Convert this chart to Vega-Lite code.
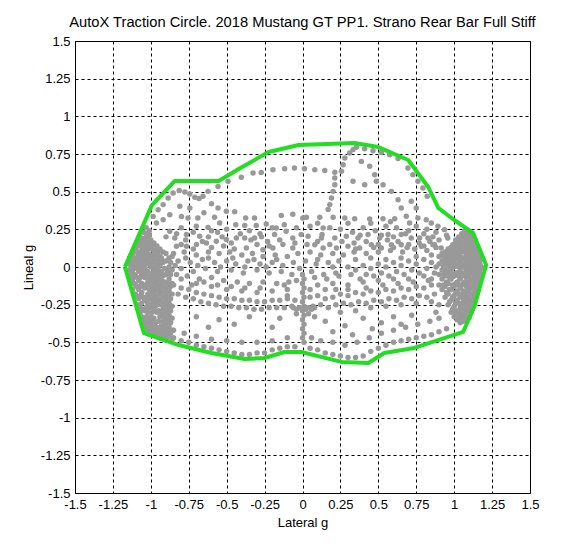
{
"$schema":"https://vega.github.io/schema/vega-lite/v6.json",
"width":455,"height":452,
"autosize":{"type":"none"},
"padding":{"left":75,"top":41,"right":55,"bottom":64},
"title":{"text":"AutoX Traction Circle. 2018 Mustang GT PP1. Strano Rear Bar Full Stiff","fontSize":14.7,"fontWeight":"normal","font":"Liberation Sans","color":"black","offset":5},
"datasets":{
"pts":[
{"x":-1.14,"y":-0.06},{"x":-1.14,"y":-0.02},{"x":-1.14,"y":0.02},{"x":-1.14,"y":0.06},
{"x":-1.12,"y":-0.15},{"x":-1.12,"y":-0.08},{"x":-1.12,"y":-0.02},{"x":-1.12,"y":0.03},{"x":-1.12,"y":0.08},{"x":-1.11,"y":0.12},
{"x":-1.1,"y":-0.18},{"x":-1.1,"y":-0.12},{"x":-1.1,"y":-0.06},{"x":-1.1,"y":0},{"x":-1.1,"y":0.06},{"x":-1.1,"y":0.12},{"x":-1.09,"y":0.17},
{"x":-1.08,"y":-0.28},{"x":-1.08,"y":-0.21},{"x":-1.08,"y":-0.15},{"x":-1.08,"y":-0.09},{"x":-1.08,"y":-0.03},{"x":-1.08,"y":0.02},{"x":-1.08,"y":0.08},{"x":-1.08,"y":0.14},{"x":-1.07,"y":0.2},
{"x":-1.06,"y":-0.33},{"x":-1.06,"y":-0.24},{"x":-1.06,"y":-0.17},{"x":-1.06,"y":-0.11},{"x":-1.06,"y":-0.05},{"x":-1.06,"y":0.01},{"x":-1.06,"y":0.07},{"x":-1.06,"y":0.11},{"x":-1.06,"y":0.16},{"x":-1.05,"y":0.23},
{"x":-1.04,"y":-0.39},{"x":-1.04,"y":-0.35},{"x":-1.04,"y":-0.29},{"x":-1.04,"y":-0.22},{"x":-1.04,"y":-0.14},{"x":-1.04,"y":-0.07},{"x":-1.04,"y":-0.01},{"x":-1.04,"y":0.05},{"x":-1.04,"y":0.1},{"x":-1.04,"y":0.15},{"x":-1.04,"y":0.19},{"x":-1.03,"y":0.26},
{"x":-1.02,"y":-0.42},{"x":-1.02,"y":-0.37},{"x":-1.02,"y":-0.3},{"x":-1.02,"y":-0.24},{"x":-1.02,"y":-0.18},{"x":-1.02,"y":-0.1},{"x":-1.02,"y":-0.03},{"x":-1.02,"y":0.04},{"x":-1.02,"y":0.09},{"x":-1.02,"y":0.13},{"x":-1.02,"y":0.2},{"x":-1.01,"y":0.24},
{"x":-1,"y":-0.44},{"x":-1,"y":-0.38},{"x":-1,"y":-0.33},{"x":-1,"y":-0.26},{"x":-1,"y":-0.2},{"x":-1,"y":-0.13},{"x":-1,"y":-0.06},{"x":-1,"y":0},{"x":-1,"y":0.06},{"x":-1,"y":0.12},{"x":-1,"y":0.18},
{"x":-0.98,"y":-0.45},{"x":-0.98,"y":-0.4},{"x":-0.98,"y":-0.34},{"x":-0.98,"y":-0.28},{"x":-0.98,"y":-0.22},{"x":-0.98,"y":-0.15},{"x":-0.98,"y":-0.08},{"x":-0.98,"y":-0.02},{"x":-0.98,"y":0.05},{"x":-0.98,"y":0.11},{"x":-0.98,"y":0.16},
{"x":-0.96,"y":-0.46},{"x":-0.96,"y":-0.4},{"x":-0.96,"y":-0.3},{"x":-0.96,"y":-0.23},{"x":-0.96,"y":-0.16},{"x":-0.96,"y":-0.1},{"x":-0.96,"y":-0.04},{"x":-0.96,"y":0.02},{"x":-0.96,"y":0.08},{"x":-0.96,"y":0.14},
{"x":-0.94,"y":-0.47},{"x":-0.94,"y":-0.42},{"x":-0.94,"y":-0.33},{"x":-0.94,"y":-0.25},{"x":-0.94,"y":-0.18},{"x":-0.94,"y":-0.12},{"x":-0.94,"y":-0.05},{"x":-0.94,"y":0.01},{"x":-0.94,"y":0.07},{"x":-0.94,"y":0.12},
{"x":-0.92,"y":-0.47},{"x":-0.92,"y":-0.43},{"x":-0.92,"y":-0.36},{"x":-0.92,"y":-0.28},{"x":-0.92,"y":-0.2},{"x":-0.92,"y":-0.13},{"x":-0.92,"y":-0.06},{"x":-0.92,"y":0.03},{"x":-0.92,"y":0.1},
{"x":-0.9,"y":-0.48},{"x":-0.9,"y":-0.44},{"x":-0.9,"y":-0.38},{"x":-0.9,"y":-0.3},{"x":-0.9,"y":-0.22},{"x":-0.9,"y":-0.14},{"x":-0.9,"y":-0.05},{"x":-0.9,"y":0.04},{"x":-0.9,"y":0.09},
{"x":-0.88,"y":-0.46},{"x":-0.88,"y":-0.4},{"x":-0.88,"y":-0.32},{"x":-0.88,"y":-0.24},{"x":-0.88,"y":-0.16},{"x":-0.88,"y":-0.08},{"x":-0.88,"y":0},{"x":-0.88,"y":0.06},
{"x":-0.86,"y":-0.48},{"x":-0.86,"y":-0.42},{"x":-0.86,"y":-0.34},{"x":-0.86,"y":-0.26},{"x":-0.86,"y":-0.18},{"x":-0.86,"y":-0.11},{"x":-0.86,"y":-0.02},{"x":-0.86,"y":0.07},
{"x":-1.13,"y":-0.1},{"x":-1.13,"y":-0.04},{"x":-1.13,"y":0},{"x":-1.13,"y":0.04},{"x":-1.13,"y":0.08},
{"x":-1.11,"y":-0.18},{"x":-1.11,"y":-0.11},{"x":-1.11,"y":-0.05},{"x":-1.11,"y":0.01},{"x":-1.11,"y":0.05},{"x":-1.11,"y":0.1},{"x":-1.1,"y":0.15},
{"x":-1.09,"y":-0.25},{"x":-1.09,"y":-0.2},{"x":-1.09,"y":-0.13},{"x":-1.09,"y":-0.07},{"x":-1.09,"y":-0.01},{"x":-1.09,"y":0.04},{"x":-1.09,"y":0.1},{"x":-1.08,"y":0.16},
{"x":-1.07,"y":-0.3},{"x":-1.07,"y":-0.26},{"x":-1.07,"y":-0.19},{"x":-1.07,"y":-0.13},{"x":-1.07,"y":-0.07},{"x":-1.07,"y":-0.01},{"x":-1.07,"y":0.05},{"x":-1.07,"y":0.1},{"x":-1.07,"y":0.17},
{"x":-1.05,"y":-0.36},{"x":-1.05,"y":-0.28},{"x":-1.05,"y":-0.2},{"x":-1.05,"y":-0.12},{"x":-1.05,"y":-0.03},{"x":-1.05,"y":0.03},{"x":-1.05,"y":0.09},{"x":-1.05,"y":0.13},{"x":-1.05,"y":0.19},
{"x":-1.03,"y":-0.4},{"x":-1.03,"y":-0.33},{"x":-1.03,"y":-0.27},{"x":-1.03,"y":-0.2},{"x":-1.03,"y":-0.12},{"x":-1.03,"y":-0.05},{"x":-1.03,"y":0.02},{"x":-1.03,"y":0.07},{"x":-1.03,"y":0.11},{"x":-1.03,"y":0.17},{"x":-1.03,"y":0.22},
{"x":-1.01,"y":-0.41},{"x":-1.01,"y":-0.34},{"x":-1.01,"y":-0.27},{"x":-1.01,"y":-0.21},{"x":-1.01,"y":-0.15},{"x":-1.01,"y":-0.08},{"x":-1.01,"y":0.02},{"x":-1.01,"y":0.08},{"x":-1.01,"y":0.15},{"x":-1.01,"y":0.21},
{"x":-0.99,"y":-0.42},{"x":-0.99,"y":-0.36},{"x":-0.99,"y":-0.3},{"x":-0.99,"y":-0.24},{"x":-0.99,"y":-0.17},{"x":-0.99,"y":-0.1},{"x":-0.99,"y":-0.04},{"x":-0.99,"y":0.03},{"x":-0.99,"y":0.08},{"x":-0.99,"y":0.14},
{"x":-0.97,"y":-0.43},{"x":-0.97,"y":-0.37},{"x":-0.97,"y":-0.26},{"x":-0.97,"y":-0.19},{"x":-0.97,"y":-0.12},{"x":-0.97,"y":-0.06},{"x":-0.97,"y":0},{"x":-0.97,"y":0.06},{"x":-0.97,"y":0.11},
{"x":-0.95,"y":-0.44},{"x":-0.95,"y":-0.36},{"x":-0.95,"y":-0.29},{"x":-0.95,"y":-0.21},{"x":-0.95,"y":-0.14},{"x":-0.95,"y":-0.08},{"x":-0.95,"y":-0.02},{"x":-0.95,"y":0.04},{"x":-0.95,"y":0.1},
{"x":-0.93,"y":-0.45},{"x":-0.93,"y":-0.39},{"x":-0.93,"y":-0.31},{"x":-0.93,"y":-0.23},{"x":-0.93,"y":-0.16},{"x":-0.93,"y":-0.09},{"x":-0.93,"y":-0.03},{"x":-0.93,"y":0.06},
{"x":-0.91,"y":-0.46},{"x":-0.91,"y":-0.41},{"x":-0.91,"y":-0.33},{"x":-0.91,"y":-0.25},{"x":-0.91,"y":-0.17},{"x":-0.91,"y":-0.1},{"x":-0.91,"y":-0.01},
{"x":-0.89,"y":-0.43},{"x":-0.89,"y":-0.35},{"x":-0.89,"y":-0.27},{"x":-0.89,"y":-0.19},{"x":-0.89,"y":-0.11},{"x":-0.89,"y":-0.03},
{"x":-0.87,"y":-0.44},{"x":-0.87,"y":-0.37},{"x":-0.87,"y":-0.29},{"x":-0.87,"y":-0.21},{"x":-0.87,"y":-0.13},{"x":-0.87,"y":-0.05},{"x":-0.87,"y":0.03},
{"x":1.18,"y":-0.05},{"x":1.18,"y":0},{"x":1.18,"y":0.05},
{"x":1.16,"y":-0.15},{"x":1.16,"y":-0.1},{"x":1.16,"y":-0.05},{"x":1.16,"y":0},{"x":1.16,"y":0.05},{"x":1.16,"y":0.1},
{"x":1.14,"y":-0.22},{"x":1.14,"y":-0.17},{"x":1.14,"y":-0.12},{"x":1.14,"y":-0.07},{"x":1.14,"y":-0.02},{"x":1.14,"y":0.03},{"x":1.14,"y":0.08},{"x":1.14,"y":0.13},{"x":1.14,"y":0.17},
{"x":1.12,"y":-0.28},{"x":1.12,"y":-0.23},{"x":1.12,"y":-0.18},{"x":1.12,"y":-0.13},{"x":1.12,"y":-0.08},{"x":1.12,"y":-0.03},{"x":1.12,"y":0.02},{"x":1.12,"y":0.07},{"x":1.12,"y":0.12},{"x":1.12,"y":0.16},{"x":1.12,"y":0.2},
{"x":1.1,"y":-0.33},{"x":1.1,"y":-0.27},{"x":1.1,"y":-0.21},{"x":1.1,"y":-0.15},{"x":1.1,"y":-0.1},{"x":1.1,"y":-0.05},{"x":1.1,"y":0},{"x":1.1,"y":0.05},{"x":1.1,"y":0.1},{"x":1.1,"y":0.15},{"x":1.1,"y":0.19},{"x":1.1,"y":0.23},
{"x":1.08,"y":-0.35},{"x":1.08,"y":-0.3},{"x":1.08,"y":-0.25},{"x":1.08,"y":-0.19},{"x":1.08,"y":-0.13},{"x":1.08,"y":-0.07},{"x":1.08,"y":-0.02},{"x":1.08,"y":0.03},{"x":1.08,"y":0.08},{"x":1.08,"y":0.13},{"x":1.08,"y":0.18},{"x":1.08,"y":0.22},
{"x":1.06,"y":-0.36},{"x":1.06,"y":-0.31},{"x":1.06,"y":-0.26},{"x":1.06,"y":-0.21},{"x":1.06,"y":-0.16},{"x":1.06,"y":-0.11},{"x":1.06,"y":-0.05},{"x":1.06,"y":0},{"x":1.06,"y":0.06},{"x":1.06,"y":0.11},{"x":1.06,"y":0.16},{"x":1.06,"y":0.2},
{"x":1.04,"y":-0.37},{"x":1.04,"y":-0.32},{"x":1.04,"y":-0.27},{"x":1.04,"y":-0.2},{"x":1.04,"y":-0.14},{"x":1.04,"y":-0.08},{"x":1.04,"y":-0.03},{"x":1.04,"y":0.03},{"x":1.04,"y":0.09},{"x":1.04,"y":0.14},{"x":1.04,"y":0.19},
{"x":1.02,"y":-0.35},{"x":1.02,"y":-0.29},{"x":1.02,"y":-0.22},{"x":1.02,"y":-0.16},{"x":1.02,"y":-0.1},{"x":1.02,"y":-0.04},{"x":1.02,"y":0.02},{"x":1.02,"y":0.07},{"x":1.02,"y":0.12},{"x":1.02,"y":0.17},
{"x":1,"y":-0.33},{"x":1,"y":-0.26},{"x":1,"y":-0.19},{"x":1,"y":-0.13},{"x":1,"y":-0.06},{"x":1,"y":0},{"x":1,"y":0.05},{"x":1,"y":0.1},{"x":1,"y":0.15},
{"x":0.98,"y":-0.3},{"x":0.98,"y":-0.22},{"x":0.98,"y":-0.15},{"x":0.98,"y":-0.08},{"x":0.98,"y":-0.02},{"x":0.98,"y":0.04},{"x":0.98,"y":0.09},{"x":0.98,"y":0.13},
{"x":0.96,"y":-0.25},{"x":0.96,"y":-0.18},{"x":0.96,"y":-0.11},{"x":0.96,"y":-0.04},{"x":0.96,"y":0.02},{"x":0.96,"y":0.07},{"x":0.96,"y":0.12},
{"x":0.94,"y":-0.2},{"x":0.94,"y":-0.13},{"x":0.94,"y":-0.06},{"x":0.94,"y":0},{"x":0.94,"y":0.05},{"x":0.94,"y":0.1},
{"x":0.92,"y":-0.15},{"x":0.92,"y":-0.08},{"x":0.92,"y":-0.02},{"x":0.92,"y":0.04},{"x":0.92,"y":0.09},
{"x":0.9,"y":-0.12},{"x":0.9,"y":-0.05},{"x":0.9,"y":0.02},{"x":0.9,"y":0.07},
{"x":1.17,"y":-0.08},{"x":1.17,"y":-0.02},{"x":1.17,"y":0.02},{"x":1.17,"y":0.08},
{"x":1.15,"y":-0.18},{"x":1.15,"y":-0.13},{"x":1.15,"y":-0.08},{"x":1.15,"y":-0.03},{"x":1.15,"y":0.02},{"x":1.15,"y":0.07},{"x":1.15,"y":0.12},
{"x":1.13,"y":-0.25},{"x":1.13,"y":-0.2},{"x":1.13,"y":-0.15},{"x":1.13,"y":-0.1},{"x":1.13,"y":-0.05},{"x":1.13,"y":0},{"x":1.13,"y":0.05},{"x":1.13,"y":0.1},{"x":1.13,"y":0.15},{"x":1.13,"y":0.18},
{"x":1.11,"y":-0.3},{"x":1.11,"y":-0.24},{"x":1.11,"y":-0.18},{"x":1.11,"y":-0.13},{"x":1.11,"y":-0.08},{"x":1.11,"y":-0.02},{"x":1.11,"y":0.03},{"x":1.11,"y":0.08},{"x":1.11,"y":0.13},{"x":1.11,"y":0.17},{"x":1.11,"y":0.21},
{"x":1.09,"y":-0.33},{"x":1.09,"y":-0.28},{"x":1.09,"y":-0.22},{"x":1.09,"y":-0.16},{"x":1.09,"y":-0.11},{"x":1.09,"y":-0.04},{"x":1.09,"y":0.01},{"x":1.09,"y":0.06},{"x":1.09,"y":0.11},{"x":1.09,"y":0.16},{"x":1.09,"y":0.2},{"x":1.09,"y":0.23},
{"x":1.07,"y":-0.34},{"x":1.07,"y":-0.28},{"x":1.07,"y":-0.23},{"x":1.07,"y":-0.17},{"x":1.07,"y":-0.1},{"x":1.07,"y":-0.04},{"x":1.07,"y":0.02},{"x":1.07,"y":0.05},{"x":1.07,"y":0.1},{"x":1.07,"y":0.15},{"x":1.07,"y":0.2},{"x":1.07,"y":0.24},
{"x":1.05,"y":-0.34},{"x":1.05,"y":-0.29},{"x":1.05,"y":-0.24},{"x":1.05,"y":-0.18},{"x":1.05,"y":-0.12},{"x":1.05,"y":-0.06},{"x":1.05,"y":0},{"x":1.05,"y":0.06},{"x":1.05,"y":0.12},{"x":1.05,"y":0.17},{"x":1.05,"y":0.22},
{"x":1.03,"y":-0.34},{"x":1.03,"y":-0.3},{"x":1.03,"y":-0.24},{"x":1.03,"y":-0.18},{"x":1.03,"y":-0.12},{"x":1.03,"y":-0.06},{"x":1.03,"y":0},{"x":1.03,"y":0.05},{"x":1.03,"y":0.1},{"x":1.03,"y":0.15},{"x":1.03,"y":0.2},
{"x":1.01,"y":-0.31},{"x":1.01,"y":-0.24},{"x":1.01,"y":-0.17},{"x":1.01,"y":-0.11},{"x":1.01,"y":-0.04},{"x":1.01,"y":0.02},{"x":1.01,"y":0.08},{"x":1.01,"y":0.13},{"x":1.01,"y":0.18},
{"x":0.99,"y":-0.28},{"x":0.99,"y":-0.2},{"x":0.99,"y":-0.12},{"x":0.99,"y":-0.05},{"x":0.99,"y":0.02},{"x":0.99,"y":0.07},{"x":0.99,"y":0.12},
{"x":0.97,"y":-0.23},{"x":0.97,"y":-0.15},{"x":0.97,"y":-0.07},{"x":0.97,"y":0},{"x":0.97,"y":0.05},{"x":0.97,"y":0.1},
{"x":0.95,"y":-0.17},{"x":0.95,"y":-0.1},{"x":0.95,"y":-0.03},{"x":0.95,"y":0.03},{"x":0.95,"y":0.08},
{"x":0.93,"y":-0.12},{"x":0.93,"y":-0.05},{"x":0.93,"y":0.01},{"x":0.93,"y":0.07},
{"x":-0.623,"y":0.502},{"x":-0.557,"y":0.535},{"x":-0.491,"y":0.569},{"x":-0.403,"y":0.595},{"x":-0.326,"y":0.624},{"x":-0.272,"y":0.628},{"x":-0.195,"y":0.646},{"x":-0.118,"y":0.652},{"x":-0.053,"y":0.657},{"x":0.013,"y":0.652},{"x":0.081,"y":0.646},{"x":0.147,"y":0.64},{"x":0.213,"y":0.629},
{"x":-0.985,"y":0.336},{"x":-0.952,"y":0.38},{"x":-0.919,"y":0.414},{"x":-0.886,"y":0.458},{"x":-0.853,"y":0.491},{"x":-0.813,"y":0.507},{"x":-0.776,"y":0.498},{"x":-0.743,"y":0.485},{"x":-0.71,"y":0.463},{"x":-0.682,"y":0.454},{"x":-0.656,"y":0.47},
{"x":-0.809,"y":0.403},{"x":-0.743,"y":0.392},{"x":-0.798,"y":0.336},{"x":-0.755,"y":0.325},{"x":-0.69,"y":0.325},{"x":-0.875,"y":0.347},{"x":-0.919,"y":0.314},{"x":-0.963,"y":0.292},{"x":-0.623,"y":0.263},{"x":-0.557,"y":0.392},{"x":-0.502,"y":0.37},{"x":-0.546,"y":0.292},{"x":-0.447,"y":0.366},{"x":-0.375,"y":0.325},{"x":-0.316,"y":0.325},{"x":-0.381,"y":0.276},{"x":-0.305,"y":0.276},{"x":-0.239,"y":0.285},{"x":-0.173,"y":0.259},{"x":-0.14,"y":0.342},{"x":-0.064,"y":0.35},{"x":0.002,"y":0.325},{"x":-0.184,"y":0.215},{"x":-0.108,"y":0.237},{"x":-0.064,"y":0.193},{"x":-0.009,"y":0.215},{"x":-0.381,"y":0.193},{"x":-0.316,"y":0.193},{"x":-0.436,"y":0.193},{"x":-0.502,"y":0.182},{"x":-0.568,"y":0.171},{"x":-0.634,"y":0.16},{"x":-0.699,"y":0.149},{"x":-0.765,"y":0.137},{"x":-0.831,"y":0.137},{"x":-0.875,"y":0.237},{"x":-0.842,"y":0.193},{"x":-0.765,"y":0.215},{"x":-0.678,"y":0.204},{"x":-0.195,"y":0.126},{"x":-0.129,"y":0.149},{"x":-0.064,"y":0.126},{"x":-0.37,"y":0.126},{"x":-0.261,"y":0.115},
{"x":-0.6,"y":0.42},{"x":-0.65,"y":0.36},{"x":-0.58,"y":0.33},{"x":-0.5,"y":0.25},{"x":-0.44,"y":0.28},{"x":-0.7,"y":0.27},{"x":-0.8,"y":0.26},{"x":-0.9,"y":0.2},{"x":-0.56,"y":0.23},{"x":-0.62,"y":0.2},
{"x":0.311,"y":0.757},{"x":0.279,"y":0.723},{"x":0.268,"y":0.679},{"x":0.257,"y":0.635},{"x":0.213,"y":0.591},{"x":0.213,"y":0.546},{"x":0.202,"y":0.502},{"x":0.191,"y":0.458},{"x":0.18,"y":0.414},{"x":0.169,"y":0.381},{"x":0.136,"y":0.259},{"x":0.129,"y":0.215},{"x":0.333,"y":0.779},{"x":0.355,"y":0.795},
{"x":0.41,"y":0.785},{"x":0.465,"y":0.772},{"x":0.52,"y":0.76},{"x":0.575,"y":0.745},{"x":0.63,"y":0.72},{"x":0.695,"y":0.657},{"x":0.728,"y":0.613},{"x":0.761,"y":0.569},{"x":0.794,"y":0.524},{"x":0.822,"y":0.469},
{"x":0.388,"y":0.701},{"x":0.443,"y":0.668},{"x":0.476,"y":0.613},{"x":0.487,"y":0.569},{"x":0.531,"y":0.546},{"x":0.586,"y":0.502},{"x":0.63,"y":0.447},{"x":0.651,"y":0.392},{"x":0.684,"y":0.337},{"x":0.706,"y":0.292},
{"x":0.717,"y":0.436},{"x":0.75,"y":0.392},{"x":0.761,"y":0.325},{"x":0.816,"y":0.314},{"x":0.849,"y":0.292},{"x":0.893,"y":0.27},{"x":0.936,"y":0.248},{"x":0.333,"y":0.569},{"x":0.41,"y":0.546},
{"x":0.026,"y":0.33},{"x":0.114,"y":0.33},{"x":0.202,"y":0.33},{"x":0.279,"y":0.325},{"x":0.344,"y":0.32},{"x":0.443,"y":0.318},{"x":0.531,"y":0.32},{"x":0.608,"y":0.32},
{"x":0.037,"y":0.204},{"x":0.081,"y":0.148},{"x":0.125,"y":0.193},{"x":0.136,"y":0.126},{"x":0.213,"y":0.193},{"x":0.224,"y":0.126},{"x":0.289,"y":0.204},{"x":0.3,"y":0.137},{"x":0.366,"y":0.193},{"x":0.377,"y":0.126},{"x":0.432,"y":0.215},{"x":0.454,"y":0.148},{"x":0.509,"y":0.193},{"x":0.52,"y":0.126},{"x":0.564,"y":0.215},{"x":0.586,"y":0.148},{"x":0.651,"y":0.215},{"x":0.651,"y":0.148},{"x":0.717,"y":0.193},{"x":0.772,"y":0.193},{"x":0.827,"y":0.193},{"x":0.783,"y":0.137},{"x":0.86,"y":0.148},{"x":0.914,"y":0.126},{"x":0.958,"y":0.193},{"x":0.991,"y":0.148},
{"x":0.25,"y":0.25},{"x":0.4,"y":0.26},{"x":0.55,"y":0.27},{"x":0.7,"y":0.24},{"x":0.33,"y":0.23},{"x":0.48,"y":0.24},{"x":0.62,"y":0.26},
{"x":-0.8,"y":0.15},{"x":-0.72,"y":0.12},{"x":-0.6,"y":0.13},{"x":-0.52,"y":0.14},{"x":-0.45,"y":0.12},{"x":-0.3,"y":0.15},{"x":-0.22,"y":0.14},{"x":-0.15,"y":0.18},{"x":-0.05,"y":0.16},{"x":0.03,"y":0.15},{"x":0.1,"y":0.17},{"x":0.18,"y":0.15},{"x":0.26,"y":0.17},{"x":0.34,"y":0.16},{"x":0.42,"y":0.17},{"x":0.5,"y":0.15},{"x":0.56,"y":0.18},{"x":0.63,"y":0.17},{"x":0.7,"y":0.15},{"x":0.77,"y":0.16},{"x":0.84,"y":0.17},{"x":0.9,"y":0.18},
{"x":-0.35,"y":0.24},{"x":-0.28,"y":0.22},{"x":-0.2,"y":0.26},{"x":-0.12,"y":0.28},{"x":-0.04,"y":0.26},{"x":0.05,"y":0.27},{"x":0.1,"y":0.29},{"x":0.18,"y":0.26},{"x":0.3,"y":0.29},{"x":0.45,"y":0.29},{"x":0.58,"y":0.3},{"x":0.75,"y":0.27},{"x":0.82,"y":0.25},{"x":0.88,"y":0.23},{"x":0.95,"y":0.21},
{"x":-0.83,"y":0.22},{"x":-0.77,"y":0.18},{"x":-0.72,"y":0.23},{"x":-0.66,"y":0.17},{"x":-0.6,"y":0.24},{"x":-0.53,"y":0.2},{"x":-0.47,"y":0.16},{"x":-0.41,"y":0.22},{"x":-0.34,"y":0.18},{"x":-0.27,"y":0.2},{"x":-0.23,"y":0.17},{"x":-0.84,"y":0.01},{"x":-0.77,"y":0.06},{"x":-0.69,"y":0.01},{"x":-0.62,"y":0.06},{"x":-0.54,"y":0},{"x":-0.46,"y":0.06},{"x":-0.38,"y":0},{"x":-0.32,"y":0.05},{"x":-0.24,"y":0},{"x":-0.17,"y":0.05},{"x":-0.83,"y":-0.05},{"x":-0.73,"y":-0.12},{"x":-0.65,"y":-0.1},{"x":-0.56,"y":-0.12},{"x":-0.47,"y":-0.13},{"x":-0.38,"y":-0.14},{"x":-0.28,"y":-0.14},{"x":-0.12,"y":-0.12},{"x":-0.04,"y":-0.09},
{"x":0.35,"y":0.12},{"x":0.47,"y":0.13},{"x":0.6,"y":0.13},{"x":0.69,"y":0.13},{"x":0.8,"y":0.14},{"x":0.87,"y":0.15},{"x":0.38,"y":0.21},{"x":0.52,"y":0.21},{"x":0.6,"y":0.2},{"x":0.68,"y":0.22},{"x":0.8,"y":0.22},{"x":0.86,"y":0.2},{"x":0.38,"y":-0.08},{"x":0.47,"y":-0.06},{"x":0.57,"y":-0.06},{"x":0.67,"y":-0.05},{"x":0.77,"y":-0.04},{"x":0.85,"y":-0.08},{"x":0.87,"y":-0.04},{"x":0.3,"y":-0.15},{"x":0.42,"y":-0.14},{"x":0.53,"y":-0.12},{"x":0.63,"y":-0.11},{"x":0.73,"y":-0.1},{"x":0.83,"y":-0.09},{"x":0.25,"y":-0.3},{"x":0.35,"y":-0.29},{"x":0.45,"y":-0.27},{"x":0.55,"y":-0.26},{"x":0.65,"y":-0.25},{"x":0.75,"y":-0.24},{"x":0.85,"y":-0.23},{"x":0.9,"y":-0.25},{"x":0.88,"y":-0.3},
{"x":-0.02,"y":-0.01},{"x":0.1,"y":0.05},{"x":0.2,"y":0},{"x":0.15,"y":-0.15},{"x":0.22,"y":-0.15},{"x":-0.1,"y":-0.19},{"x":0.05,"y":-0.15},
{"x":-0.85,"y":0.09},{"x":-0.78,"y":0.1},{"x":-0.7,"y":0.08},{"x":-0.62,"y":0.1},{"x":-0.55,"y":0.09},{"x":-0.48,"y":0.1},{"x":-0.4,"y":0.08},{"x":-0.33,"y":0.09},{"x":-0.26,"y":0.07},{"x":-0.18,"y":0.08},{"x":-0.1,"y":0.07},{"x":-0.03,"y":0.09},{"x":0.05,"y":0.1},{"x":0.12,"y":0.08},{"x":0.2,"y":0.09},{"x":0.27,"y":0.08},{"x":0.34,"y":0.1},{"x":0.42,"y":0.09},{"x":0.5,"y":0.1},{"x":0.58,"y":0.11},{"x":0.66,"y":0.1},{"x":0.74,"y":0.12},{"x":0.82,"y":0.11},{"x":0.88,"y":0.13},
{"x":-0.82,"y":0.04},{"x":-0.74,"y":0.03},{"x":-0.66,"y":0.05},{"x":-0.58,"y":0.03},{"x":-0.5,"y":0.04},{"x":-0.44,"y":0.02},{"x":-0.36,"y":0.04},{"x":-0.28,"y":0.02},{"x":-0.2,"y":0.03},{"x":-0.13,"y":0.01},{"x":-0.06,"y":0.03},{"x":0.02,"y":0.04},{"x":0.09,"y":0.02},{"x":0.17,"y":0.03},{"x":0.24,"y":0.04},
{"x":-0.8,"y":-0.01},{"x":-0.72,"y":-0.03},{"x":-0.64,"y":-0.01},{"x":-0.56,"y":-0.03},{"x":-0.47,"y":-0.02},{"x":-0.39,"y":-0.04},{"x":-0.3,"y":-0.02},{"x":-0.22,"y":-0.04},{"x":-0.14,"y":-0.03},{"x":-0.07,"y":-0.05},{"x":0.06,"y":-0.03},{"x":0.14,"y":-0.05},{"x":0.22,"y":-0.04},
{"x":-0.76,"y":-0.06},{"x":-0.68,"y":-0.08},{"x":-0.6,"y":-0.07},{"x":-0.52,"y":-0.09},{"x":-0.43,"y":-0.1},{"x":-0.35,"y":-0.11},{"x":-0.26,"y":-0.1},{"x":-0.17,"y":-0.11},{"x":-0.09,"y":-0.1},{"x":0.08,"y":-0.07},{"x":0.16,"y":-0.08},{"x":0.24,"y":-0.06},
{"x":0.3,"y":0},{"x":0.35,"y":-0.02},{"x":0.4,"y":0.01},{"x":0.45,"y":-0.01},{"x":0.5,"y":0.02},{"x":0.55,"y":0},{"x":0.6,"y":0.03},{"x":0.65,"y":0.01},{"x":0.7,"y":0.04},{"x":0.75,"y":0.02},{"x":0.8,"y":0.05},{"x":0.85,"y":0.03},{"x":0.35,"y":0.05},{"x":0.45,"y":0.06},{"x":0.55,"y":0.05},{"x":0.65,"y":0.06},{"x":0.75,"y":0.07},{"x":0.85,"y":0.08},{"x":0.32,"y":-0.05},{"x":0.42,"y":-0.05},{"x":0.52,"y":-0.04},{"x":0.62,"y":-0.03},{"x":0.72,"y":-0.02},{"x":0.82,"y":-0.01},{"x":0.88,"y":0},
{"x":-0.85,"y":-0.12},{"x":-0.8,"y":-0.14},{"x":-0.75,"y":-0.15},{"x":-0.7,"y":-0.17},{"x":-0.65,"y":-0.18},{"x":-0.6,"y":-0.19},{"x":-0.55,"y":-0.2},{"x":-0.5,"y":-0.21},{"x":-0.45,"y":-0.21},{"x":-0.4,"y":-0.22},{"x":-0.35,"y":-0.22},{"x":-0.3,"y":-0.23},{"x":-0.25,"y":-0.23},{"x":-0.2,"y":-0.22},{"x":-0.15,"y":-0.22},{"x":-0.1,"y":-0.21},{"x":-0.05,"y":-0.22},
{"x":-0.82,"y":-0.18},{"x":-0.77,"y":-0.2},{"x":-0.72,"y":-0.21},{"x":-0.67,"y":-0.23},{"x":-0.62,"y":-0.24},{"x":-0.57,"y":-0.25},{"x":-0.52,"y":-0.26},{"x":-0.47,"y":-0.26},{"x":-0.42,"y":-0.27},{"x":-0.37,"y":-0.27},{"x":-0.32,"y":-0.28},{"x":-0.27,"y":-0.28},{"x":-0.22,"y":-0.27},{"x":-0.17,"y":-0.27},{"x":-0.12,"y":-0.27},{"x":-0.07,"y":-0.26},
{"x":-0.8,"y":-0.08},{"x":-0.7,"y":-0.11},{"x":-0.6,"y":-0.13},{"x":-0.5,"y":-0.15},{"x":-0.4,"y":-0.16},{"x":-0.3,"y":-0.17},{"x":-0.2,"y":-0.16},{"x":-0.1,"y":-0.15},
{"x":0.05,"y":-0.2},{"x":0.1,"y":-0.19},{"x":0.15,"y":-0.21},{"x":0.2,"y":-0.2},{"x":0.25,"y":-0.18},{"x":0.3,"y":-0.19},{"x":0.35,"y":-0.17},{"x":0.4,"y":-0.18},{"x":0.45,"y":-0.16},{"x":0.5,"y":-0.17},{"x":0.55,"y":-0.15},{"x":0.6,"y":-0.16},{"x":0.65,"y":-0.14},{"x":0.7,"y":-0.15},{"x":0.75,"y":-0.13},{"x":0.8,"y":-0.14},{"x":0.85,"y":-0.12},
{"x":0.07,"y":-0.26},{"x":0.12,"y":-0.25},{"x":0.17,"y":-0.27},{"x":0.22,"y":-0.25},{"x":0.27,"y":-0.24},{"x":0.32,"y":-0.25},{"x":0.37,"y":-0.23},{"x":0.42,"y":-0.24},{"x":0.47,"y":-0.22},{"x":0.52,"y":-0.23},{"x":0.57,"y":-0.21},{"x":0.62,"y":-0.22},{"x":0.67,"y":-0.2},{"x":0.72,"y":-0.21},{"x":0.77,"y":-0.19},{"x":0.82,"y":-0.2},{"x":0.87,"y":-0.18},
{"x":0.1,"y":-0.12},{"x":0.2,"y":-0.11},{"x":0.3,"y":-0.12},{"x":0.4,"y":-0.1},{"x":0.5,"y":-0.09},{"x":0.6,"y":-0.08},{"x":0.7,"y":-0.08},{"x":0.8,"y":-0.06},
{"x":0,"y":-0.05},{"x":0.01,"y":-0.08},{"x":0,"y":-0.11},{"x":0.01,"y":-0.14},{"x":0,"y":-0.17},{"x":0.01,"y":-0.2},{"x":0,"y":-0.23},{"x":0.01,"y":-0.26},{"x":0,"y":-0.29},{"x":0.01,"y":-0.32},{"x":0,"y":-0.35},{"x":0.01,"y":-0.38},{"x":0,"y":-0.41},{"x":0.01,"y":-0.44},{"x":0,"y":-0.47},{"x":0.01,"y":-0.5},
{"x":-0.06,"y":-0.27},{"x":-0.04,"y":-0.28},{"x":-0.02,"y":-0.27},{"x":0.02,"y":-0.28},{"x":0.04,"y":-0.27},{"x":0.06,"y":-0.28},{"x":0.08,"y":-0.27},{"x":-0.04,"y":-0.31},{"x":0.04,"y":-0.31},
{"x":-0.85,"y":-0.47},{"x":-0.8,"y":-0.49},{"x":-0.75,"y":-0.5},{"x":-0.7,"y":-0.52},{"x":-0.65,"y":-0.53},{"x":-0.6,"y":-0.54},{"x":-0.55,"y":-0.55},{"x":-0.5,"y":-0.56},{"x":-0.45,"y":-0.57},{"x":-0.4,"y":-0.58},{"x":-0.35,"y":-0.58},{"x":-0.3,"y":-0.57},{"x":-0.25,"y":-0.57},{"x":-0.2,"y":-0.55},{"x":-0.15,"y":-0.54},{"x":-0.1,"y":-0.53},{"x":-0.05,"y":-0.53},{"x":0.05,"y":-0.54},{"x":0.1,"y":-0.55},{"x":0.15,"y":-0.57},{"x":0.2,"y":-0.58},{"x":0.25,"y":-0.59},{"x":0.3,"y":-0.6},{"x":0.35,"y":-0.6},{"x":0.4,"y":-0.59},{"x":0.45,"y":-0.56},{"x":0.5,"y":-0.54},{"x":0.55,"y":-0.52},{"x":0.6,"y":-0.5},{"x":0.65,"y":-0.49},{"x":0.7,"y":-0.48},{"x":0.75,"y":-0.47},{"x":0.8,"y":-0.46},{"x":0.85,"y":-0.45},{"x":0.9,"y":-0.43},{"x":0.95,"y":-0.41},
{"x":-0.85,"y":-0.42},{"x":-0.78,"y":-0.44},{"x":-0.7,"y":-0.46},{"x":-0.6,"y":-0.48},{"x":-0.5,"y":-0.49},{"x":-0.4,"y":-0.5},{"x":-0.3,"y":-0.5},{"x":-0.2,"y":-0.49},{"x":-0.1,"y":-0.47},{"x":0.06,"y":-0.47},{"x":0.12,"y":-0.49},{"x":0.2,"y":-0.5},{"x":0.28,"y":-0.52},{"x":0.36,"y":-0.5},{"x":0.44,"y":-0.47},{"x":0.52,"y":-0.44},{"x":0.6,"y":-0.42},{"x":0.68,"y":-0.4},{"x":0.76,"y":-0.38},{"x":0.84,"y":-0.36},{"x":0.9,"y":-0.34},
{"x":-0.7,"y":-0.33},{"x":-0.55,"y":-0.35},{"x":-0.45,"y":-0.38},{"x":-0.35,"y":-0.33},{"x":-0.2,"y":-0.4},{"x":-0.15,"y":-0.34},{"x":-0.62,"y":-0.4},
{"x":0.08,"y":-0.33},{"x":0.15,"y":-0.36},{"x":0.2,"y":-0.43},{"x":0.28,"y":-0.39},{"x":0.33,"y":-0.45},{"x":0.4,"y":-0.34},{"x":0.46,"y":-0.41},{"x":0.52,"y":-0.37},{"x":0.6,"y":-0.33},{"x":0.65,"y":-0.38},{"x":0.72,"y":-0.32}
],
"hull":[
{"i":1,"x":-1.171,"y":0},{"i":2,"x":-0.993,"y":0.411},{"i":3,"x":-0.842,"y":0.571},{"i":4,"x":-0.553,"y":0.571},{"i":5,"x":-0.421,"y":0.65},{"i":6,"x":-0.224,"y":0.763},{"i":7,"x":-0.026,"y":0.81},{"i":8,"x":0.342,"y":0.823},{"i":9,"x":0.5,"y":0.796},{"i":10,"x":0.697,"y":0.71},{"i":11,"x":0.829,"y":0.531},{"i":12,"x":0.895,"y":0.392},{"i":13,"x":1,"y":0.312},{"i":14,"x":1.125,"y":0.226},{"i":15,"x":1.211,"y":0.013},{"i":16,"x":1.132,"y":-0.265},{"i":17,"x":1.059,"y":-0.431},{"i":18,"x":1,"y":-0.451},{"i":19,"x":0.737,"y":-0.537},{"i":20,"x":0.539,"y":-0.571},{"i":21,"x":0.434,"y":-0.637},{"i":22,"x":0.257,"y":-0.63},{"i":23,"x":-0.007,"y":-0.564},{"i":24,"x":-0.118,"y":-0.564},{"i":25,"x":-0.25,"y":-0.604},{"i":26,"x":-0.382,"y":-0.61},{"i":27,"x":-0.599,"y":-0.571},{"i":28,"x":-0.816,"y":-0.518},{"i":29,"x":-1.046,"y":-0.438},{"i":30,"x":-1.171,"y":0}
]
},
"layer":[
{"data":{"name":"pts"},"mark":{"type":"circle","size":30,"color":"#999999","opacity":1},
"encoding":{
"x":{"field":"x","type":"quantitative","scale":{"domain":[-1.5,1.5],"nice":false,"zero":false},"axis":{"values":[-1.5,-1.25,-1,-0.75,-0.5,-0.25,0,0.25,0.5,0.75,1,1.25,1.5],"tickCount":30,"labelExpr":"''+datum.value","title":"Lateral g","labelFlush":false,"labelOverlap":false,"titlePadding":5}},
"y":{"field":"y","type":"quantitative","scale":{"domain":[-1.5,1.5],"nice":false,"zero":false},"axis":{"values":[-1.5,-1.25,-1,-0.75,-0.5,-0.25,0,0.25,0.5,0.75,1,1.25,1.5],"tickCount":30,"labelExpr":"''+datum.value","title":"Lineal g","labelOverlap":false,"titlePadding":5}}
}},
{"data":{"name":"hull"},"mark":{"type":"line","color":"#22dd22","strokeWidth":4,"strokeJoin":"round"},
"encoding":{"x":{"field":"x","type":"quantitative"},"y":{"field":"y","type":"quantitative"},"order":{"field":"i","type":"quantitative"}}}
],
"config":{
"font":"Liberation Sans",
"background":"white",
"view":{"stroke":"black","strokeWidth":1},
"axis":{"grid":true,"gridColor":"black","gridDash":[3,3],"gridWidth":1,"gridOpacity":1,"domain":false,"ticks":false,"labelFont":"Liberation Sans","labelFontSize":13,"labelColor":"black","titleFont":"Liberation Sans","titleFontSize":13,"titleFontWeight":"normal","titleColor":"black","labelPadding":5}
}
}
